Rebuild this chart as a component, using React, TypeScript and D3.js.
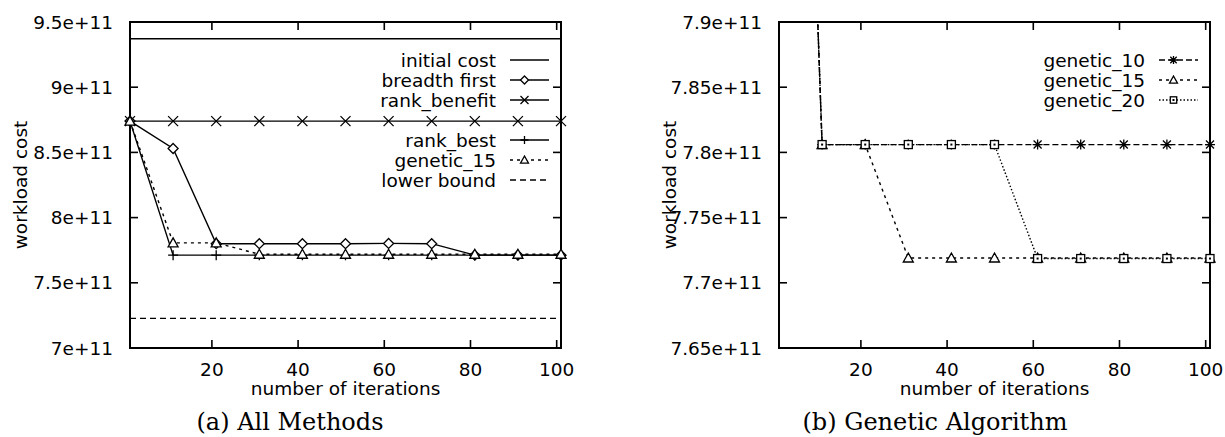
import React from 'react';
import * as d3 from 'd3';

// iterations sampled every 10 steps
const iterations = [1, 11, 21, 31, 41, 51, 61, 71, 81, 91, 101];
const xTicks = [20, 40, 60, 80, 100];

// (a) all methods
const initialCost = [9.372e11, 9.372e11, 9.372e11, 9.372e11, 9.372e11, 9.372e11, 9.372e11, 9.372e11, 9.372e11, 9.372e11, 9.372e11];
const breadthFirst = [8.74e11, 8.53e11, 7.80e11, 7.80e11, 7.80e11, 7.80e11, 7.802e11, 7.80e11, 7.712e11, 7.712e11, 7.712e11];
const rankBenefit = [8.74e11, 8.74e11, 8.74e11, 8.74e11, 8.74e11, 8.74e11, 8.74e11, 8.74e11, 8.74e11, 8.74e11, 8.74e11];
const rankBest = [8.74e11, 7.712e11, 7.712e11, 7.712e11, 7.712e11, 7.712e11, 7.712e11, 7.712e11, 7.712e11, 7.712e11, 7.712e11];
const genetic15 = [8.74e11, 7.806e11, 7.806e11, 7.719e11, 7.719e11, 7.719e11, 7.719e11, 7.719e11, 7.719e11, 7.719e11, 7.719e11];
const lowerBound = [7.227e11, 7.227e11, 7.227e11, 7.227e11, 7.227e11, 7.227e11, 7.227e11, 7.227e11, 7.227e11, 7.227e11, 7.227e11];

// (b) genetic algorithm
const genetic10 = [8.74e11, 7.806e11, 7.806e11, 7.806e11, 7.806e11, 7.806e11, 7.806e11, 7.806e11, 7.806e11, 7.806e11, 7.806e11];
const genetic20 = [8.74e11, 7.806e11, 7.806e11, 7.806e11, 7.806e11, 7.806e11, 7.7186e11, 7.7186e11, 7.7186e11, 7.7186e11, 7.7186e11];

const leftYTicks = [7e11, 7.5e11, 8e11, 8.5e11, 9e11, 9.5e11];
const leftYLabels = ['7e+11', '7.5e+11', '8e+11', '8.5e+11', '9e+11', '9.5e+11'];
const rightYTicks = [7.65e11, 7.7e11, 7.75e11, 7.8e11, 7.85e11, 7.9e11];
const rightYLabels = ['7.65e+11', '7.7e+11', '7.75e+11', '7.8e+11', '7.85e+11', '7.9e+11'];

type Marker = 'none' | 'diamond' | 'cross' | 'plus' | 'triangle' | 'asterisk' | 'square';
interface Series { name: string; values: number[]; marker: Marker; dash?: string; row: number; }

const leftSeries: Series[] = [
  { name: 'initial cost', values: initialCost, marker: 'none', row: 0 },
  { name: 'breadth first', values: breadthFirst, marker: 'diamond', row: 1 },
  { name: 'rank_benefit', values: rankBenefit, marker: 'cross', row: 2 },
  { name: 'rank_best', values: rankBest, marker: 'plus', row: 4 },
  { name: 'genetic_15', values: genetic15, marker: 'triangle', dash: '3,4', row: 5 },
  { name: 'lower bound', values: lowerBound, marker: 'none', dash: '6,4', row: 6 },
];

const rightSeries: Series[] = [
  { name: 'genetic_10', values: genetic10, marker: 'asterisk', dash: '6,3', row: 0 },
  { name: 'genetic_15', values: genetic15, marker: 'triangle', dash: '3,4', row: 1 },
  { name: 'genetic_20', values: genetic20, marker: 'square', dash: '1.5,2', row: 2 },
];

const FONT = '"DejaVu Sans", sans-serif';
const FS = 18.5;

function MarkerShape({ type, x, y, s = 5 }: { type: Marker; x: number; y: number; s?: number }) {
  const st = { stroke: '#000', strokeWidth: 1.3, fill: 'none' };
  const h = s * 0.8;
  if (type === 'diamond')
    return <path d={`M${x},${y - s}L${x + s},${y}L${x},${y + s}L${x - s},${y}Z`} {...st} fill="#fff" />;
  if (type === 'triangle')
    return <path d={`M${x},${y - s}L${x + s},${y + h}L${x - s},${y + h}Z`} {...st} fill="#fff" />;
  if (type === 'square')
    return (
      <g>
        <rect x={x - h} y={y - h} width={2 * h} height={2 * h} {...st} fill="#fff" />
        <rect x={x - 1} y={y - 1} width={2} height={2} fill="#000" />
      </g>
    );
  if (type === 'cross')
    return <path d={`M${x - s},${y - s}L${x + s},${y + s}M${x - s},${y + s}L${x + s},${y - s}`} {...st} />;
  if (type === 'plus')
    return <path d={`M${x - s},${y}L${x + s},${y}M${x},${y - s}L${x},${y + s}`} {...st} />;
  if (type === 'asterisk')
    return (
      <path
        d={`M${x - s},${y}L${x + s},${y}M${x},${y - s}L${x},${y + s}M${x - h},${y - h}L${x + h},${y + h}M${x - h},${y + h}L${x + h},${y - h}`}
        {...st}
      />
    );
  return null;
}

interface PanelProps {
  id: string;
  left: number;
  right: number;
  yDomain: [number, number];
  yTicks: number[];
  yLabels: string[];
  series: Series[];
  ylabelX: number;
  caption: string;
  captionX: number;
}

function Panel({ id, left, right, yDomain, yTicks, yLabels, series, ylabelX, caption, captionX }: PanelProps) {
  const top = 22;
  const bottom = 348;
  const x = d3.scaleLinear().domain([1, 101]).range([left, right]);
  const y = d3.scaleLinear().domain(yDomain).range([bottom, top]);
  const line = d3.line<number>().x((_, i) => x(iterations[i])).y((d) => y(d));
  const tl = 8;
  const cx = (left + right) / 2;

  return (
    <g>
      <defs>
        <clipPath id={id}>
          <rect x={left} y={top} width={right - left} height={bottom - top} />
        </clipPath>
      </defs>

      {/* frame */}
      <rect x={left} y={top} width={right - left} height={bottom - top} fill="none" stroke="#000" strokeWidth={2} />

      {/* y ticks + labels */}
      {yTicks.map((t, i) => (
        <g key={t}>
          <line x1={left} x2={left + tl} y1={y(t)} y2={y(t)} stroke="#000" strokeWidth={1.6} />
          <line x1={right} x2={right - tl} y1={y(t)} y2={y(t)} stroke="#000" strokeWidth={1.6} />
          <text x={left - 17} y={y(t)} dy="0.36em" textAnchor="end" fontFamily={FONT} fontSize={FS}>
            {yLabels[i]}
          </text>
        </g>
      ))}

      {/* x ticks + labels */}
      {xTicks.map((t) => (
        <g key={t}>
          <line x1={x(t)} x2={x(t)} y1={bottom} y2={bottom - tl} stroke="#000" strokeWidth={1.6} />
          <line x1={x(t)} x2={x(t)} y1={top} y2={top + tl} stroke="#000" strokeWidth={1.6} />
          <text x={x(t)} y={376} textAnchor="middle" fontFamily={FONT} fontSize={FS}>
            {t}
          </text>
        </g>
      ))}

      <text x={cx} y={395} textAnchor="middle" fontFamily={FONT} fontSize={FS}>
        number of iterations
      </text>
      <text
        transform={`translate(${ylabelX},185) rotate(-90)`}
        dy="0.36em"
        textAnchor="middle"
        fontFamily={FONT}
        fontSize={FS}
      >
        workload cost
      </text>

      {/* series */}
      <g clipPath={`url(#${id})`}>
        {series.map((s) => (
          <path
            key={s.name}
            d={line(s.values) || ''}
            fill="none"
            stroke="#000"
            strokeWidth={1.4}
            strokeDasharray={s.dash}
          />
        ))}
      </g>
      {series.map((s) =>
        s.values.map((v, i) =>
          v <= yDomain[1] && v >= yDomain[0] ? (
            <MarkerShape key={s.name + i} type={s.marker} x={x(iterations[i])} y={y(v)} />
          ) : null
        )
      )}

      {/* legend */}
      {series.map((s) => {
        const ly = 60 + s.row * 20;
        const x1 = right - 51;
        const x2 = right - 12;
        return (
          <g key={'lg' + s.name}>
            <text x={right - 65} y={ly} dy="0.36em" textAnchor="end" fontFamily={FONT} fontSize={FS}>
              {s.name}
            </text>
            <line x1={x1} x2={x2} y1={ly} y2={ly} stroke="#000" strokeWidth={1.4} strokeDasharray={s.dash} />
            <MarkerShape type={s.marker} x={(x1 + x2) / 2 - 5} y={ly} s={4} />
          </g>
        );
      })}

      <text x={captionX} y={430} textAnchor="middle" fontFamily='"DejaVu Serif", serif' fontSize={24}>
        {caption}
      </text>
    </g>
  );
}

export default function App() {
  return (
    <svg
      width={1225}
      height={437}
      style={{ position: 'absolute', left: 0, top: 0, background: '#fff' }}
    >
      <rect width={1225} height={437} fill="#fff" />
      <Panel
        id="clipA"
        left={130}
        right={561}
        yDomain={[7e11, 9.5e11]}
        yTicks={leftYTicks}
        yLabels={leftYLabels}
        series={leftSeries}
        ylabelX={20}
        caption="(a) All Methods"
        captionX={290}
      />
      <Panel
        id="clipB"
        left={779}
        right={1210}
        yDomain={[7.65e11, 7.9e11]}
        yTicks={rightYTicks}
        yLabels={rightYLabels}
        series={rightSeries}
        ylabelX={669}
        caption="(b) Genetic Algorithm"
        captionX={935}
      />
    </svg>
  );
}
